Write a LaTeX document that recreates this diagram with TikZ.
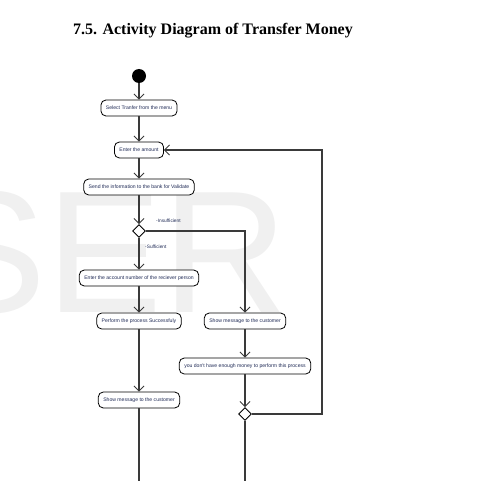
\documentclass[tikz,border=0pt]{standalone}
\usepackage{fontspec}
\newfontfamily\diagfont{Liberation Sans}
\newfontfamily\wmfont{Liberation Sans}
\newfontfamily\titlefont{Liberation Serif}
\usetikzlibrary{arrows.meta,shapes.geometric}
\definecolor{txtnavy}{HTML}{1F2A55}
\definecolor{wmgray}{HTML}{F0F0F0}
\definecolor{flowgray}{HTML}{3A3A3A}
\tikzset{
  act/.style={draw=black, line width=0.8pt, rounded corners=5pt, fill=white,
    minimum height=16pt, inner xsep=5pt, inner ysep=2pt,
    font=\diagfont\fontsize{5.1}{6}\selectfont, text=txtnavy},
  dec/.style={draw=black, line width=0.9pt, diamond, fill=white,
    minimum width=13pt, minimum height=13pt, inner sep=0pt},
  startnode/.style={circle, fill=black, minimum size=14pt, inner sep=0pt},
  flow/.style={draw=flowgray, line width=1.1pt, -{Straight Barb[length=5pt,width=10pt,line width=0.9pt]}},
  plain/.style={draw=flowgray, line width=1.1pt},
  guard/.style={font=\diagfont\fontsize{4.8}{5.5}\selectfont, text=txtnavy, inner sep=0pt}
}
\begin{document}
\begin{tikzpicture}[x=1pt,y=-1pt]
\useasboundingbox (0,0) rectangle (476,481);
% watermark
\node[anchor=base west, inner sep=0pt, text=wmgray, font=\wmfont\fontsize{174}{174}\selectfont] (wm) at (-70,312) {SER};
% title
\node[anchor=base west, inner sep=0pt, font=\titlefont\fontsize{16}{18}\selectfont\bfseries] (title) at (73,35) {7.5. Activity Diagram of Transfer Money};
% nodes
\node[startnode] (start) at (139,76) {};
\node[act] (a1) at (139,108) {Select Tranfer from the menu};
\node[act] (a2) at (139,150) {Enter the amount};
\node[act] (a3) at (139,187) {Send the information to the bank for Validate};
\node[dec] (d1) at (139,231) {};
\node[act] (a4) at (139,278) {Enter the account number of the reciever person};
\node[act] (a5) at (139,321) {Perform the process Successfuly};
\node[act] (a6) at (245,321) {Show message to the customer};
\node[act] (a7) at (245,366) {you don't have enough money to perform this process};
\node[dec] (d2) at (245,414) {};
\node[act] (a8) at (139,400) {Show message to the customer};
\coordinate (endL) at (139,487);
\coordinate (endR) at (245,490);
\coordinate (loopR) at (322,414);
\coordinate (loopT) at (322,150);
\coordinate (insR) at (245,231);
% guards
\node[guard, anchor=west] (g1) at (156,221) {-Insufficient};
\node[guard, anchor=west] (g2) at (145,247) {-Sufficient};
% connectors
\draw[flow] (start) -- (a1);
\draw[flow] (a1) -- (a2);
\draw[flow] (a2) -- (a3);
\draw[flow] (a3) -- (d1);
\draw[flow] (d1) -- (a4);
\draw[flow] (d1.east) -- (insR) -- (a6);
\draw[flow] (a4) -- (a5);
\draw[flow] (a6) -- (a7);
\draw[flow] (a7) -- (d2);
\draw[flow] (a5) -- (a8);
\draw[flow] (a8) -- (endL);
\draw[plain] (d2) -- (endR);
\draw[flow] (d2.east) -- (loopR) -- (loopT) -- (a2.east);
\end{tikzpicture}
\end{document}
